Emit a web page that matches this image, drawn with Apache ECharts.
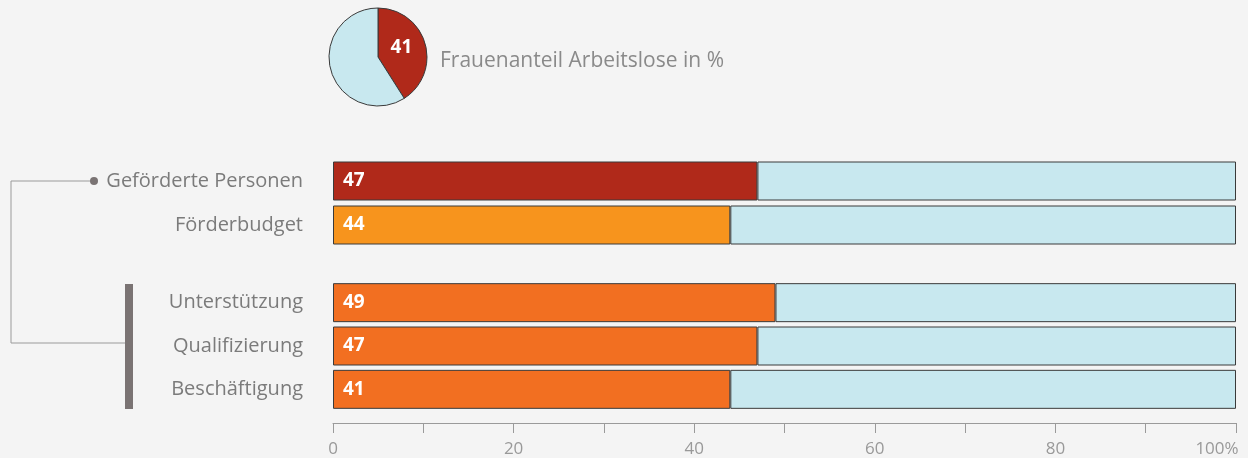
<!DOCTYPE html>
<html>
<head>
<meta charset="utf-8">
<script src="https://cdn.jsdelivr.net/npm/echarts@6/dist/echarts.min.js"></script>
<style>
html,body{margin:0;padding:0;background:#f4f4f4;}
#chart{width:1248px;height:458px;}
</style>
</head>
<body>
<div id="chart"></div>
<script>
//饼图数据
var pieTitle = 'Frauenanteil Arbeitslose in %';
var pieValues = [41, 59];

//上面两行
var topCats = ['Geförderte Personen', 'Förderbudget'];
var topValues = [47, 44];
var topLabels = ['47', '44'];
var topColors = ['#b0291a', '#f7941d'];

//下面三行
var bottomCats = ['Unterstützung', 'Qualifizierung', 'Beschäftigung'];
var bottomValues = [49, 47, 44];
var bottomLabels = ['49', '47', '41'];
var bottomColor = '#f26f21';

var restColor = '#c8e8ef';
var borderColor = '#3a3a3a';
var textGray = '#7b7b7b';
var fontName = 'Open Sans';

function rest (arr) {
    return arr.map(function (v) { return 100 - v; });
}

var chart = echarts.init(document.getElementById('chart'));

var valueLabel = function (labels) {
    return {
        show: true,
        position: 'insideLeft',
        distance: 10,
        color: '#fff',
        fontWeight: 'bold',
        fontSize: 19,
        fontFamily: fontName,
        formatter: function (p) { return labels[p.dataIndex]; }
    };
};

var catAxis = function (cats, idx) {
    return {
        type: 'category',
        gridIndex: idx,
        data: cats,
        inverse: true,
        axisLine: {show: false},
        axisTick: {show: false},
        axisLabel: {
            margin: 30,
            fontSize: 20,
            color: textGray,
            fontFamily: fontName
        }
    };
};

var option = {
    backgroundColor: '#f4f4f4',
    animation: false,
    title: {
        text: pieTitle,
        left: 440,
        top: 51,
        padding: 0,
        textStyle: {
            fontSize: 21,
            fontWeight: 'normal',
            color: '#8a8a8a',
            fontFamily: fontName
        }
    },
    grid: [
        {left: 333, width: 903, top: 159, height: 88},
        {left: 333, width: 903, top: 281, height: 132}
    ],
    xAxis: [
        {
            type: 'value', gridIndex: 0, min: 0, max: 100,
            show: false
        },
        {
            type: 'value', gridIndex: 1, min: 0, max: 100, interval: 10,
            offset: 12,
            splitLine: {show: false},
            axisLine: {show: true, lineStyle: {color: '#9a9a9a', width: 1}},
            axisTick: {show: true, length: 10, lineStyle: {color: '#9a9a9a'}},
            axisLabel: {
                margin: 18,
                fontSize: 17,
                color: '#999',
                fontFamily: fontName,
                formatter: function (v) {
                    if (v % 20 !== 0) return '';
                    if (v === 100) return '{r|100%}';
                    return v;
                },
                rich: {
                    r: {fontSize: 17, color: '#999', fontFamily: fontName, padding: [0, 38, 0, 0]}
                }
            }
        }
    ],
    yAxis: [catAxis(topCats, 0), catAxis(bottomCats, 1)],
    series: [
        {
            type: 'pie',
            center: [378, 57],
            radius: 49,
            startAngle: 90,
            clockwise: true,
            silent: true,
            data: pieValues.map(function (v, i) {
                return {
                    value: v,
                    itemStyle: {color: i === 0 ? '#b0291a' : restColor},
                    label: {show: i === 0}
                };
            }),
            itemStyle: {borderColor: borderColor, borderWidth: 1},
            label: {
                position: 'inside',
                color: '#fff',
                fontWeight: 'bold',
                fontSize: 19,
                fontFamily: fontName,
                formatter: '{c}'
            },
            labelLayout: {dx: -3, dy: -2},
            labelLine: {show: false}
        },
        {
            type: 'bar', xAxisIndex: 0, yAxisIndex: 0, stack: 'a',
            barWidth: 39,
            data: topValues.map(function (v, i) {
                return {value: v, itemStyle: {color: topColors[i]}};
            }),
            itemStyle: {borderColor: borderColor, borderWidth: 1},
            label: valueLabel(topLabels)
        },
        {
            type: 'bar', xAxisIndex: 0, yAxisIndex: 0, stack: 'a',
            barWidth: 39,
            data: rest(topValues),
            itemStyle: {color: restColor, borderColor: borderColor, borderWidth: 1}
        },
        {
            type: 'bar', xAxisIndex: 1, yAxisIndex: 1, stack: 'b',
            barWidth: 39,
            data: bottomValues,
            itemStyle: {color: bottomColor, borderColor: borderColor, borderWidth: 1},
            label: valueLabel(bottomLabels)
        },
        {
            type: 'bar', xAxisIndex: 1, yAxisIndex: 1, stack: 'b',
            barWidth: 39,
            data: rest(bottomValues),
            itemStyle: {color: restColor, borderColor: borderColor, borderWidth: 1}
        }
    ],
    //左侧连接线
    graphic: [
        {
            type: 'polyline',
            shape: {points: [[93, 181], [11, 181], [11, 343], [126, 343]]},
            style: {stroke: '#9a9a9a', lineWidth: 1, fill: null}
        },
        {
            type: 'circle',
            shape: {cx: 94, cy: 181, r: 4},
            style: {fill: '#7a7373'}
        },
        {
            type: 'rect',
            shape: {x: 125, y: 284, width: 8, height: 125},
            style: {fill: '#7a7373'}
        }
    ]
};
chart.setOption(option);
</script>
</body>
</html>
